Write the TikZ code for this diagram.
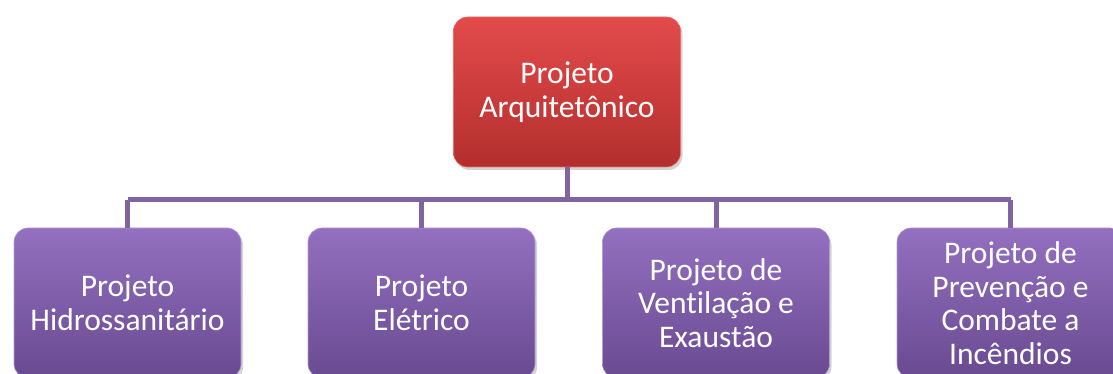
\documentclass[tikz,border=0pt]{standalone}
\usepackage{fontspec}
\setmainfont{Carlito}[Ligatures=NoCommon]
\usetikzlibrary{shadows,positioning}
\definecolor{rtop}{HTML}{E24B4A}
\definecolor{rbot}{HTML}{B42E2E}
\definecolor{ptop}{HTML}{9370C0}
\definecolor{pbot}{HTML}{694A90}
\definecolor{pline}{HTML}{8064A2}
\tikzset{
  box/.style={rounded corners=14pt, minimum width=227pt, minimum height=150pt,
    text width=225pt, align=flush center, text=white, inner sep=0pt,
    font=\fontsize{31.5pt}{33.5pt}\selectfont,
    drop shadow={opacity=0.35, shadow xshift=2pt, shadow yshift=-3pt}},
  topbox/.style={box, top color=rtop, bottom color=rbot, draw=rtop!80!white, line width=0.6pt},
  childbox/.style={box, top color=ptop, bottom color=pbot, draw=ptop!70!white, line width=0.6pt},
  link/.style={draw=pline, line width=5pt}
}
\begin{document}
\begin{tikzpicture}[x=1pt,y=1pt]
\useasboundingbox (0,0) rectangle (1113,374);
\coordinate (bus) at (0,174);
\node[topbox] (top) at (567,282) {Projeto\\Arquitetônico};
\node[childbox] (c1) at (127.5,71) {Projeto\\Hidrossanitário};
\node[childbox] (c2) at (421.5,71) {Projeto\\Elétrico};
\node[childbox] (c3) at (716,71) {Projeto de\\Ventilação e\\Exaustão};
\node[childbox] (c4) at (1010.5,71) {Projeto de\\Prevenção e\\Combate a\\Incêndios};
\draw[link] (top.south) -- (top.south |- bus);
\draw[link] (c1.north |- bus) -- (c4.north |- bus);
\foreach \c in {c1,c2,c3,c4} \draw[link] (\c.north |- bus) -- (\c.north);
\end{tikzpicture}
\end{document}
